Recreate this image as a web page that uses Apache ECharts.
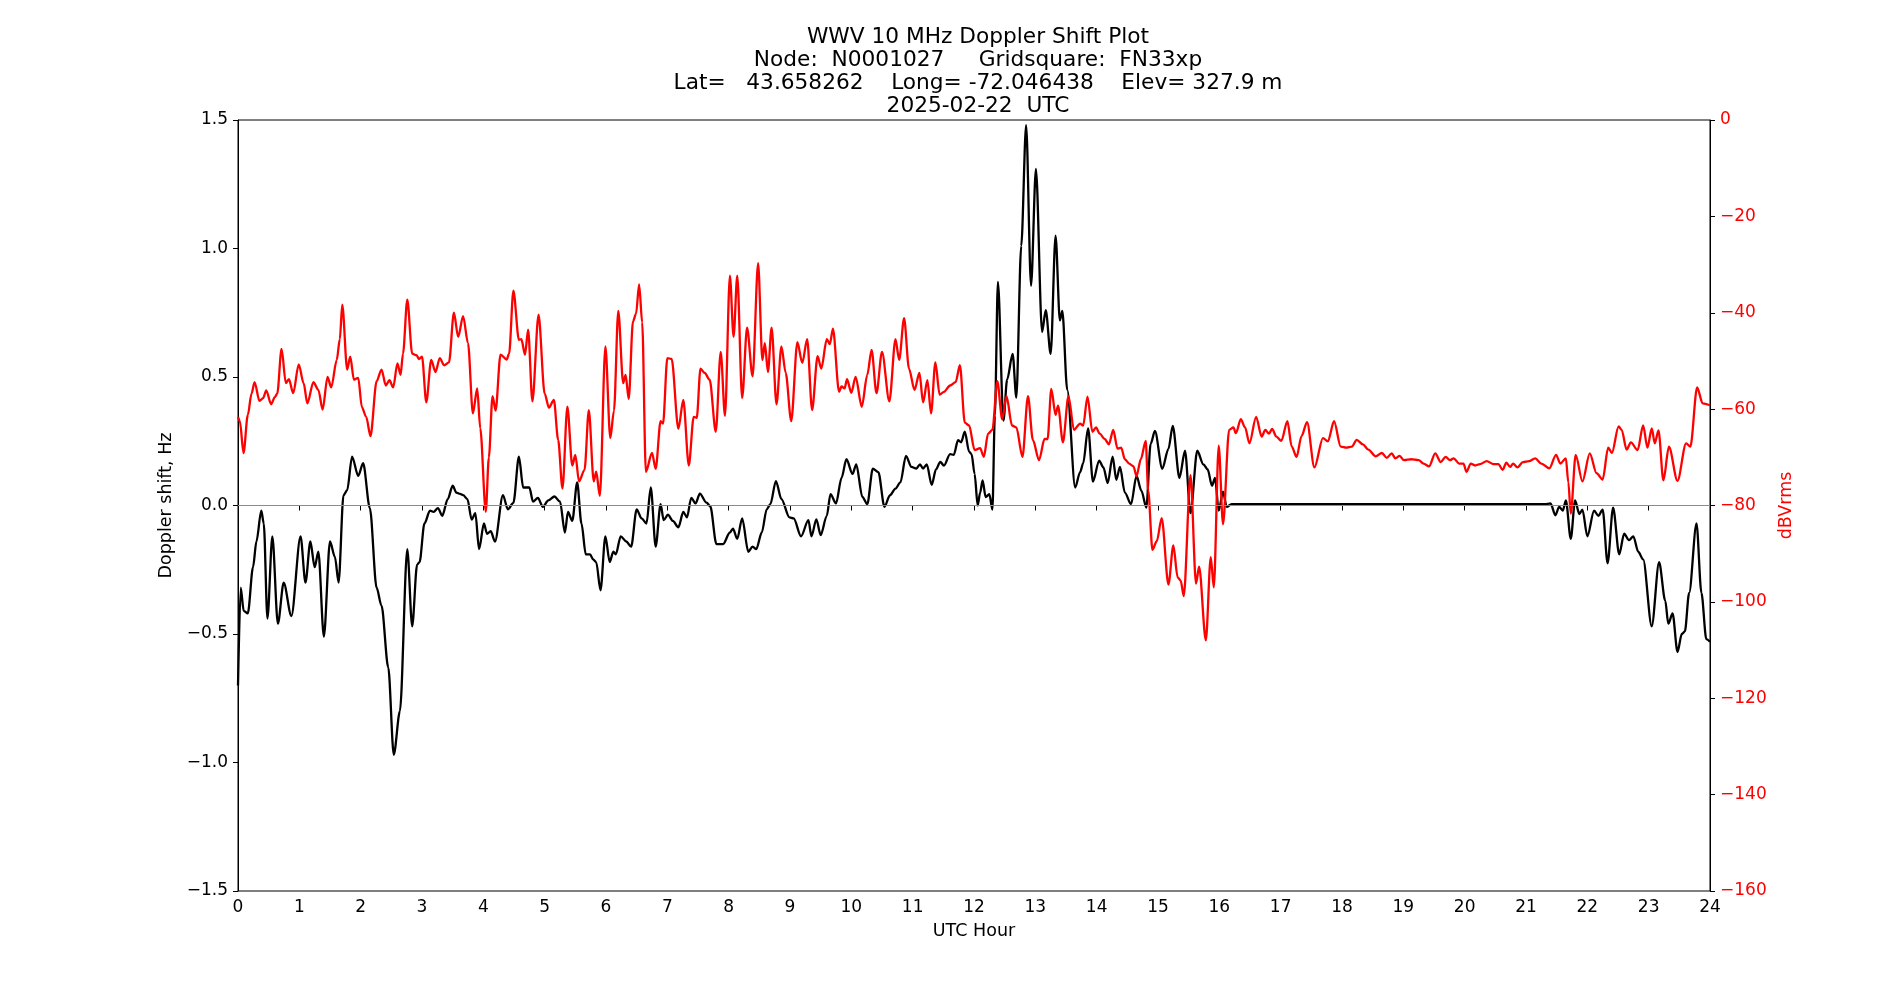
<!DOCTYPE html>
<html>
<head>
<meta charset="utf-8">
<title>WWV 10 MHz Doppler Shift Plot</title>
<script src="https://cdn.jsdelivr.net/npm/echarts@6/dist/echarts.min.js"></script>
<style>
  html, body { margin: 0; padding: 0; background: #fff; }
  #chart { width: 1900px; height: 1000px; }
</style>
</head>
<body>
<div id="chart"></div>
<script>
// Doppler shift (black, left axis): hour of day -> Hz
const dopplerHour = [
  0.00, 0.044, 0.093, 0.16, 0.245, 0.30, 0.38, 0.42, 0.48, 0.56, 0.65, 0.745, 0.87,
  1.02, 1.10, 1.18, 1.25, 1.31, 1.40, 1.50, 1.58, 1.64, 1.72, 1.78, 1.86, 1.96,
  2.04, 2.15, 2.26, 2.34, 2.45, 2.54, 2.64, 2.76, 2.84, 2.92, 2.96,
  3.04, 3.13, 3.19, 3.26, 3.33, 3.42, 3.50, 3.56, 3.62, 3.67, 3.74, 3.81, 3.87, 3.93,
  4.01, 4.06, 4.12, 4.19, 4.32, 4.40, 4.49, 4.58, 4.65, 4.75, 4.81, 4.89, 4.97,
  5.06, 5.16, 5.25, 5.33, 5.38, 5.45, 5.53, 5.60, 5.67, 5.74, 5.79, 5.84, 5.91, 5.99,
  6.06, 6.12, 6.16, 6.24, 6.33, 6.41, 6.50, 6.58, 6.66, 6.73, 6.81, 6.89, 6.94,
  7.01, 7.09, 7.18, 7.26, 7.32, 7.39, 7.46, 7.53, 7.64, 7.70, 7.80, 7.91,
  8.02, 8.07, 8.14, 8.22, 8.32, 8.39, 8.45, 8.54, 8.62, 8.68, 8.77, 8.86, 8.99,
  9.06, 9.18, 9.30, 9.35, 9.43, 9.50, 9.60, 9.66, 9.75, 9.84, 9.92,
  10.02, 10.08, 10.18, 10.26, 10.35, 10.44, 10.54, 10.63, 10.72, 10.80, 10.89, 10.98,
  11.06, 11.12, 11.17, 11.23, 11.31, 11.38, 11.45, 11.51, 11.61, 11.67, 11.74, 11.79, 11.85, 11.92, 11.96,
  12.01, 12.06, 12.10, 12.14, 12.19, 12.25, 12.30, 12.34, 12.39, 12.48, 12.54, 12.63, 12.69, 12.77, 12.85, 12.93,
  13.01, 13.11, 13.17, 13.25, 13.33, 13.40, 13.44, 13.52, 13.65, 13.73, 13.78, 13.86, 13.94,
  14.04, 14.11, 14.18, 14.26, 14.32, 14.38, 14.46, 14.56, 14.65, 14.73, 14.81, 14.88, 14.95,
  15.07, 15.17, 15.24, 15.35, 15.44, 15.53, 15.64, 15.74, 15.81, 15.88, 15.93, 15.99,
  16.06, 16.12, 16.20, 16.60, 18.00, 20.00, 21.31,
  21.40, 21.48, 21.54, 21.60, 21.65, 21.73, 21.80, 21.87, 21.92,
  22.00, 22.11, 22.18, 22.25, 22.33, 22.42, 22.52, 22.60, 22.68, 22.75, 22.83, 22.91,
  23.05, 23.17, 23.27, 23.32, 23.39, 23.47, 23.54, 23.59, 23.66, 23.78, 23.86, 23.94, 24.00,
];
const dopplerHz = [
  -0.70, -0.32, -0.41, -0.42, -0.24, -0.14, -0.02, -0.07, -0.44, -0.12, -0.46, -0.30, -0.43,
  -0.12, -0.30, -0.14, -0.24, -0.18, -0.51, -0.14, -0.20, -0.30, 0.04, 0.06, 0.19, 0.115,
  0.165, -0.01, -0.32, -0.39, -0.63, -0.97, -0.80, -0.17, -0.47, -0.23, -0.22,
  -0.07, -0.02, -0.025, -0.01, -0.04, 0.025, 0.077, 0.05, 0.045, 0.04, 0.025, -0.055, -0.03, -0.17,
  -0.07, -0.11, -0.10, -0.14, 0.04, -0.015, 0.01, 0.19, 0.07, 0.07, 0.015, 0.03, -0.005,
  0.02, 0.035, 0.015, -0.105, -0.025, -0.06, 0.09, -0.07, -0.19, -0.19, -0.21, -0.22, -0.33, -0.12,
  -0.22, -0.18, -0.19, -0.12, -0.14, -0.16, -0.015, -0.05, -0.07, 0.07, -0.16, 0.005, -0.057,
  -0.036, -0.06, -0.085, -0.025, -0.046, 0.03, 0.008, 0.046, 0.011, -0.003, -0.15, -0.15,
  -0.105, -0.09, -0.13, -0.05, -0.18, -0.16, -0.17, -0.105, -0.015, 0.005, 0.095, 0.025, -0.046,
  -0.05, -0.12, -0.057, -0.12, -0.054, -0.115, -0.04, 0.044, 0.008, 0.107, 0.18,
  0.123, 0.16, 0.033, 0.005, 0.143, 0.13, -0.005, 0.04, 0.066, 0.09, 0.193, 0.15,
  0.144, 0.16, 0.144, 0.16, 0.08, 0.14, 0.17, 0.155, 0.20, 0.197, 0.254, 0.246, 0.287, 0.21, 0.20,
  0.123, 0.0, 0.05, 0.098, 0.033, 0.044, -0.016, 0.35, 0.87, 0.33, 0.49, 0.59, 0.42, 1.01, 1.48, 0.855,
  1.31, 0.675, 0.76, 0.59, 1.05, 0.72, 0.757, 0.45, 0.07, 0.13, 0.164, 0.30, 0.093,
  0.175, 0.148, 0.087, 0.19, 0.10, 0.15, 0.05, 0.005, 0.115, 0.057, -0.008, 0.24, 0.29,
  0.143, 0.22, 0.31, 0.107, 0.213, -0.03, 0.213, 0.16, 0.14, 0.077, 0.107, -0.02,
  0.054, -0.005, 0.005, 0.005, 0.005, 0.005, 0.005,
  0.008, -0.038, -0.005, -0.02, 0.02, -0.13, 0.02, -0.033, -0.016,
  -0.12, -0.02, -0.04, -0.016, -0.225, -0.008, -0.19, -0.11, -0.135, -0.12, -0.18, -0.21,
  -0.47, -0.22, -0.37, -0.46, -0.42, -0.57, -0.50, -0.49, -0.34, -0.07, -0.34, -0.52, -0.53,
];

// received level (red, right axis): hour of day -> dBVrms
const levelHour = [
  0.00, 0.03, 0.09, 0.16, 0.22, 0.27, 0.35, 0.41, 0.46, 0.54, 0.60, 0.64, 0.71, 0.78, 0.83, 0.90, 0.99,
  1.07, 1.13, 1.23, 1.31, 1.38, 1.46, 1.52, 1.61, 1.66, 1.70, 1.78, 1.83, 1.89, 1.96,
  2.02, 2.09, 2.16, 2.26, 2.34, 2.41, 2.47, 2.53, 2.60, 2.65, 2.69, 2.76, 2.84, 2.91, 2.95,
  3.00, 3.07, 3.15, 3.22, 3.29, 3.36, 3.44, 3.52, 3.59, 3.67, 3.75, 3.83, 3.90, 3.95,
  4.04, 4.09, 4.15, 4.20, 4.28, 4.38, 4.42, 4.49, 4.58, 4.62, 4.68, 4.73, 4.80, 4.90,
  5.00, 5.07, 5.15, 5.22, 5.29, 5.37, 5.45, 5.50, 5.56, 5.65, 5.72, 5.80, 5.84, 5.90, 5.99,
  6.07, 6.13, 6.20, 6.28, 6.32, 6.37, 6.44, 6.49, 6.54, 6.59, 6.65, 6.75, 6.81, 6.89, 6.93,
  7.00, 7.07, 7.18, 7.26, 7.35, 7.43, 7.48, 7.54, 7.61, 7.69, 7.79, 7.87, 7.94,
  8.02, 8.08, 8.14, 8.22, 8.30, 8.39, 8.48, 8.55, 8.59, 8.64, 8.70, 8.78, 8.86, 8.93,
  9.02, 9.12, 9.20, 9.28, 9.36, 9.45, 9.51, 9.60, 9.65, 9.70, 9.80, 9.84, 9.89, 9.93,
  10.00, 10.07, 10.17, 10.26, 10.33, 10.41, 10.50, 10.62, 10.72, 10.78, 10.86, 10.94,
  11.03, 11.11, 11.17, 11.24, 11.30, 11.37, 11.44, 11.51, 11.61, 11.70, 11.77, 11.85, 11.92,
  12.01, 12.10, 12.16, 12.23, 12.30, 12.38, 12.46, 12.53, 12.62, 12.69, 12.79, 12.88, 12.96,
  13.06, 13.15, 13.20, 13.26, 13.33, 13.37, 13.45, 13.54, 13.63, 13.73, 13.78, 13.85, 13.93, 13.99,
  14.05, 14.13, 14.20, 14.27, 14.34, 14.40, 14.46, 14.53, 14.60, 14.65, 14.72, 14.80, 14.84, 14.91, 14.98,
  15.06, 15.17, 15.25, 15.32, 15.37, 15.42, 15.53, 15.62, 15.67, 15.78, 15.86, 15.91, 15.99,
  16.06, 16.16, 16.23, 16.27, 16.35, 16.42, 16.49, 16.60, 16.69, 16.75, 16.81, 16.86, 16.93,
  17.01, 17.11, 17.18, 17.26, 17.34, 17.43, 17.55, 17.69, 17.77, 17.87, 17.98,
  18.07, 18.16, 18.24, 18.34, 18.43, 18.55, 18.65, 18.73, 18.81, 18.87, 18.94,
  19.01, 19.13, 19.25, 19.33, 19.42, 19.52, 19.61, 19.69, 19.76, 19.82, 19.91, 19.98,
  20.03, 20.10, 20.17, 20.25, 20.36, 20.47, 20.55, 20.62, 20.68, 20.74, 20.79, 20.86, 20.95,
  21.05, 21.15, 21.25, 21.38, 21.49, 21.56, 21.65, 21.69, 21.73, 21.81, 21.92,
  22.04, 22.15, 22.25, 22.34, 22.40, 22.51, 22.56, 22.64, 22.71, 22.82, 22.91, 22.98,
  23.05, 23.10, 23.16, 23.24, 23.33, 23.47, 23.61, 23.68, 23.79, 23.88, 24.00,
];
const levelDb = [
  -61.6, -62.5, -69.1, -61.2, -56.8, -54.4, -58.3, -57.7, -56.1, -59.0, -57.5, -56.8, -47.5, -54.6, -53.8, -56.7, -50.7,
  -54.6, -58.8, -54.4, -56.0, -60.1, -53.3, -55.5, -49.8, -45.5, -38.3, -51.8, -49.1, -53.9, -53.5,
  -59.6, -61.6, -65.6, -54.2, -51.8, -55.1, -54.0, -55.5, -50.5, -52.9, -48.5, -37.3, -48.5, -48.8, -49.6,
  -49.1, -58.6, -49.8, -52.3, -49.4, -50.9, -50.3, -40.0, -45.0, -40.7, -46.3, -60.9, -55.7, -64.0,
  -81.3, -70.0, -57.3, -60.3, -48.7, -49.7, -48.5, -35.4, -45.6, -45.5, -48.7, -43.5, -58.4, -40.4,
  -56.8, -59.7, -58.1, -66.4, -76.5, -59.5, -71.7, -69.5, -75.0, -72.6, -60.2, -75.0, -73.0, -78.0, -47.0,
  -66.0, -60.3, -39.6, -54.6, -52.9, -57.9, -41.8, -40.2, -34.1, -42.0, -73.0, -69.1, -72.4, -62.5, -63.0,
  -49.4, -49.6, -64.1, -58.1, -71.7, -61.6, -61.8, -51.6, -52.5, -53.9, -64.7, -48.1, -61.4,
  -32.3, -45.0, -32.3, -57.7, -43.1, -53.2, -29.7, -49.8, -46.3, -52.3, -43.1, -59.0, -47.0, -52.5,
  -62.5, -46.1, -50.4, -45.5, -60.2, -49.0, -51.6, -45.5, -46.5, -43.3, -56.4, -55.3, -55.7, -53.8,
  -56.6, -53.3, -59.5, -52.9, -47.7, -56.7, -48.1, -58.4, -45.5, -49.8, -41.1, -51.6,
  -56.0, -52.5, -58.6, -54.0, -60.9, -50.3, -57.0, -56.4, -55.1, -54.4, -50.9, -62.8, -63.4,
  -68.5, -68.1, -69.9, -65.1, -64.3, -54.2, -62.1, -57.3, -63.4, -63.8, -69.9, -57.3, -66.4,
  -70.6, -66.2, -66.2, -55.8, -61.2, -59.3, -66.9, -57.3, -64.3, -63.0, -63.4, -57.4, -64.7, -63.8,
  -65.1, -66.2, -67.3, -64.3, -68.2, -68.0, -70.4, -71.3, -71.9, -73.9, -70.4, -66.6, -76.9, -89.2, -87.4,
  -82.6, -96.4, -88.3, -94.9, -95.6, -98.8, -73.7, -96.2, -92.7, -108.0, -90.7, -97.0, -67.6,
  -83.9, -64.3, -63.8, -65.0, -62.1, -63.8, -67.1, -61.6, -65.7, -64.3, -65.1, -64.1, -65.7,
  -66.6, -62.5, -67.8, -69.9, -65.6, -62.7, -72.1, -66.0, -66.7, -62.5, -67.8,
  -68.0, -67.8, -66.4, -67.3, -68.4, -69.8, -69.1, -70.1, -69.2, -70.2, -69.7,
  -70.6, -70.4, -70.6, -71.3, -71.9, -69.2, -71.0, -69.9, -70.6, -70.2, -71.3, -71.3,
  -73.0, -71.3, -71.7, -71.4, -70.8, -71.4, -71.4, -72.6, -71.1, -72.0, -71.3, -72.1, -71.0,
  -70.8, -70.2, -71.3, -72.3, -69.5, -71.3, -70.2, -75.2, -81.7, -69.5, -75.0,
  -69.2, -73.3, -74.6, -68.0, -69.1, -63.6, -64.3, -68.4, -66.9, -68.5, -63.4, -68.0,
  -64.0, -67.1, -64.4, -74.8, -67.8, -74.9, -67.1, -67.8, -55.5, -58.8, -59.2,
];

const titleLines = [
  'WWV 10 MHz Doppler Shift Plot',
  'Node:  N0001027     Gridsquare:  FN33xp',
  'Lat=   43.658262    Long= -72.046438    Elev= 327.9 m',
  '2025-02-22  UTC',
];

const FONT = 'DejaVu Sans';
const minus = (s) => s.replace('-', '\u2212');

const chart = echarts.init(document.getElementById('chart'), null, { renderer: 'canvas' });

chart.setOption({
  backgroundColor: '#fff',
  animation: false,
  title: {
    text: titleLines.join('\n'),
    left: 973,
    top: 21,
    textAlign: 'center',
    textStyle: { fontFamily: FONT, fontSize: 21.7, lineHeight: 23, fontWeight: 'normal', color: '#000' },
  },
  grid: {
    left: 238, right: 190, top: 120, bottom: 109,
    show: true, borderColor: '#000', borderWidth: 1, backgroundColor: 'transparent',
  },
  xAxis: {
    type: 'value',
    min: 0, max: 24, interval: 1,
    name: 'UTC Hour',
    nameLocation: 'middle',
    nameGap: 31,
    nameTextStyle: { fontFamily: FONT, fontSize: 17.5, color: '#000' },
    axisLine: { lineStyle: { color: '#000', width: 1 } },
    axisTick: { length: 5, lineStyle: { color: '#000' } },
    axisLabel: { fontFamily: FONT, fontSize: 17, color: '#000', margin: 8 },
    splitLine: { show: false },
  },
  yAxis: [
    {
      type: 'value',
      position: 'left',
      min: -1.5, max: 1.5, interval: 0.5,
      name: 'Doppler shift, Hz',
      nameLocation: 'middle',
      nameRotate: 90,
      nameGap: 62,
      nameTextStyle: { fontFamily: FONT, fontSize: 17.5, color: '#000' },
      axisLine: { show: true, lineStyle: { color: '#000', width: 1 } },
      axisTick: { show: true, length: 5, lineStyle: { color: '#000' } },
      axisLabel: {
        fontFamily: FONT, fontSize: 17, color: '#000', margin: 10,
        formatter: (v) => minus(v.toFixed(1)),
      },
      splitLine: { show: false },
    },
    {
      type: 'value',
      position: 'right',
      min: -160, max: 0, interval: 20,
      name: 'dBVrms',
      nameLocation: 'middle',
      nameRotate: 90,
      nameGap: 63,
      nameTextStyle: { fontFamily: FONT, fontSize: 17.5, color: '#ff0000' },
      axisLine: { show: true, lineStyle: { color: '#000', width: 1 } },
      axisTick: { show: true, length: 5, lineStyle: { color: '#000' } },
      axisLabel: {
        fontFamily: FONT, fontSize: 17, color: '#ff0000', margin: 10,
        formatter: (v) => minus(String(v)),
      },
      splitLine: { show: false },
    },
  ],
  series: [
    {
      name: 'Doppler shift',
      type: 'line',
      yAxisIndex: 0,
      data: dopplerHour.map((h, i) => [h, dopplerHz[i]]),
      showSymbol: false,
      smooth: 0.3,
      smoothMonotone: 'x',
      lineStyle: { color: '#000', width: 2.3 },
      markLine: {
        silent: true,
        symbol: 'none',
        label: { show: false },
        lineStyle: { color: '#8c8c8c', width: 1, type: 'solid' },
        data: [{ yAxis: 0 }],
      },
      z: 2,
    },
    {
      name: 'dBVrms',
      type: 'line',
      yAxisIndex: 1,
      data: levelHour.map((h, i) => [h, levelDb[i]]),
      showSymbol: false,
      smooth: 0.3,
      smoothMonotone: 'x',
      lineStyle: { color: '#ff0000', width: 2.3 },
      z: 3,
    },
  ],
});
</script>
</body>
</html>
